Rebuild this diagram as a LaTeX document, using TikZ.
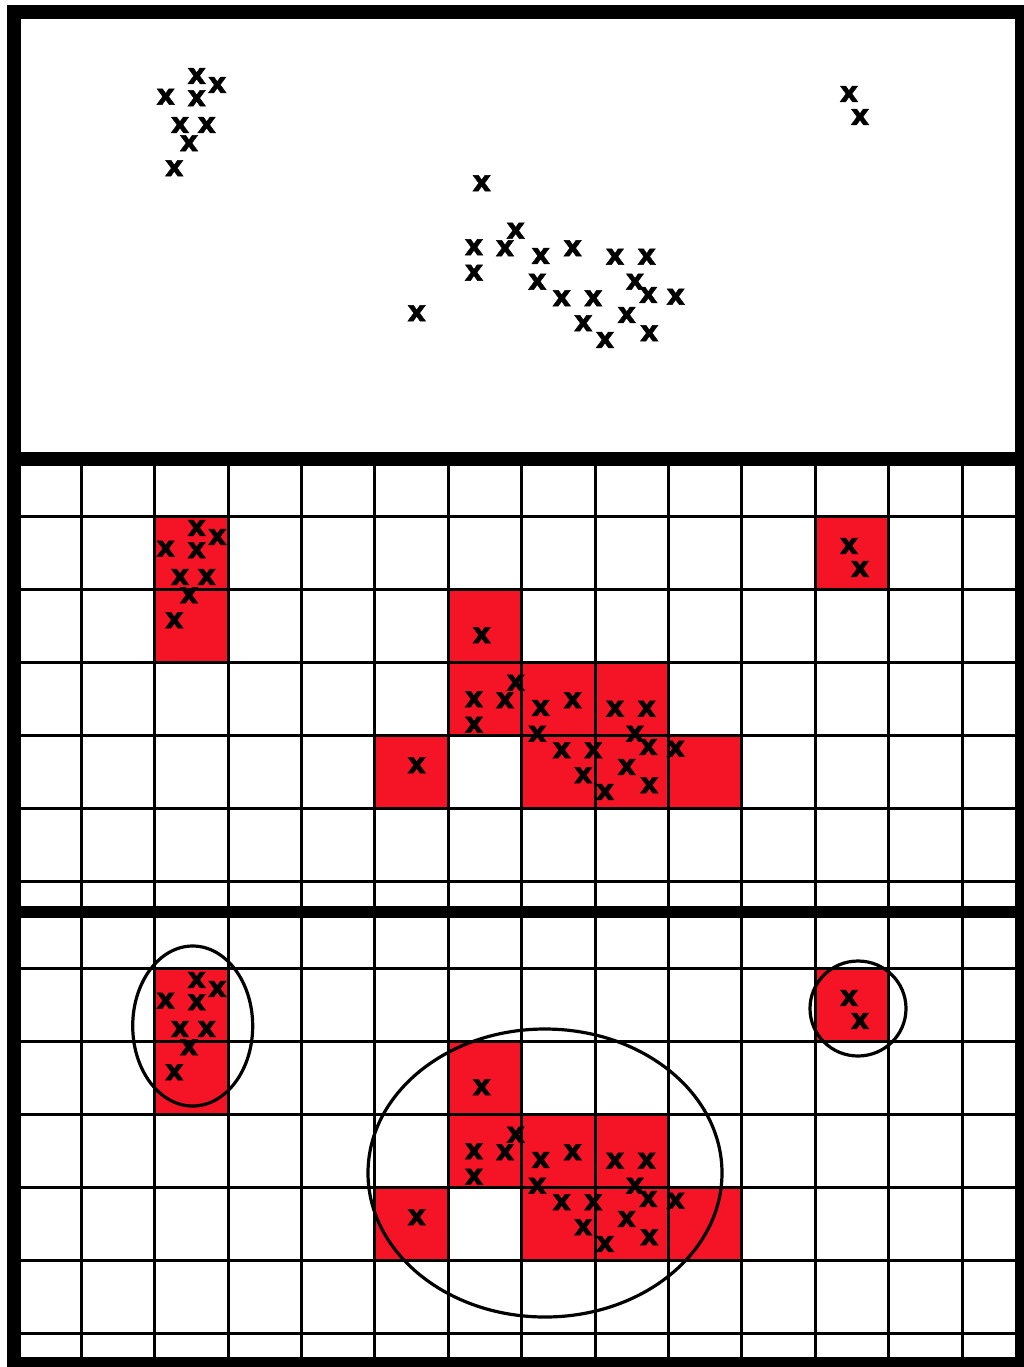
\documentclass[tikz,border=0pt]{standalone}
\usepackage{fontspec}
\newfontfamily\markfont{DejaVu Sans Bold}[FakeBold=1.6]
\definecolor{cellred}{RGB}{245,19,38}
\begin{document}
\begin{tikzpicture}[x=1pt,y=-1pt,
  gridline/.style={line width=3pt,black},
  ring/.style={line width=3.2pt,black},
  xmark/.style={inner sep=0pt,font=\markfont\fontsize{29}{29}\selectfont},
  cellfill/.style={fill=cellred}]
\useasboundingbox (0,0) rectangle (1024,1367);
% outer frame and panels
\fill[black] (7,5) rectangle (1024,1367);
\fill[white] (21,19) rectangle (1014.5,452);
\fill[white] (21,466) rectangle (1014.5,906);
\fill[white] (21,918) rectangle (1014.5,1357);
% red cells in panels 2 and 3
\foreach \dy in {0,452}{
  \foreach \c/\r in {2/1,2/2,11/1,6/2,6/3,7/3,8/3,5/4,7/4,8/4,9/4}{
    \fill[cellfill] ({81.3+73.4*(\c-1)},{516.3+73.1*(\r-1)+\dy}) rectangle ++(73.4,73.1);
  }
}
% grids
\foreach \top/\bot/\dy in {466/906/0,918/1357/452}{
  \foreach \k in {0,...,12}{
    \draw[gridline] ({81.3+73.4*\k},\top) -- ({81.3+73.4*\k},\bot);
  }
  \foreach \k in {0,...,5}{
    \draw[gridline] (21,{516.3+73.1*\k+\dy}) -- (1014.5,{516.3+73.1*\k+\dy});
  }
}
% x marks
\foreach \dy/\p in {0/a,452/b,904/c}{
  \foreach \px/\py [count=\i] in {
    196.7/76, 217.3/85, 165.7/96.7, 196.7/98.3, 180/125, 206.7/125, 189/143.3, 174.3/168.3,
    849/94, 860/117,
    481.7/183.3, 515.7/230.7, 474/247.3, 505/248.3, 540.7/256, 572.7/248.3, 615/256.7, 646.7/256.7,
    474/272.7, 537.3/281.7, 635/281.7, 561.7/298.3, 593.3/298.3, 648.3/295, 675.7/296.7,
    416.7/313.3, 583.3/323.3, 626.7/315, 605/340, 649.3/333.3}{
    \node[xmark] (\p\i) at (\px,{\py+\dy}) {x};
  }
}
% cluster rings in panel 3
\draw[ring] (192.7,1026) ellipse [x radius=60pt, y radius=80pt];
\draw[ring] (858,1008.5) ellipse [x radius=48pt, y radius=47.5pt];
\draw[ring] (545,1173) ellipse [x radius=177pt, y radius=144pt];
\end{tikzpicture}
\end{document}
